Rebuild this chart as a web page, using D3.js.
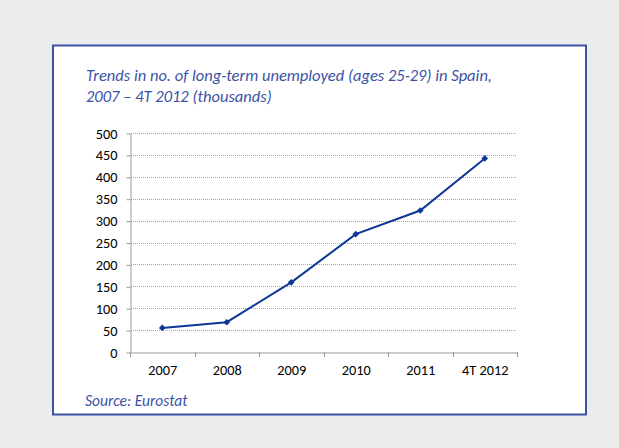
<!DOCTYPE html>
<html><head><meta charset="utf-8">
<script src="https://cdn.jsdelivr.net/npm/d3@7/dist/d3.min.js"></script>
<style>
body{margin:0;background:#ebeceb;}
svg{display:block;}
</style></head>
<body>
<svg id="chart" width="619" height="448"></svg>
<script>
const categories = ["2007","2008","2009","2010","2011","4T 2012"];
const values = [55, 68, 159, 269, 323, 442];
const yTicks = [0,50,100,150,200,250,300,350,400,450,500];
const titleLines = ["Trends in no. of long-term unemployed (ages 25-29) in Spain,","2007 \u2013 4T 2012 (thousands)"];
const sourceText = "Source: Eurostat";

const svg = d3.select("#chart");
const font = "Carlito, 'Open Sans', 'Liberation Sans', sans-serif";
svg.append("rect").attr("width",619).attr("height",448).attr("fill","#ebeceb");
svg.append("rect").attr("x",53).attr("y",45.5).attr("width",533).attr("height",369)
  .attr("fill","#fff").attr("stroke","#3c52a6").attr("stroke-width",2);

titleLines.forEach((t,i)=>{
  svg.append("text").attr("x",86).attr("y",81+i*21).text(t)
    .attr("font-family",font).attr("font-style","italic").attr("font-size",16.5)
    .attr("fill","#3c52a6");
});
svg.append("text").attr("x",85).attr("y",406).text(sourceText)
  .attr("font-family",font).attr("font-style","italic").attr("font-size",15.5)
  .attr("fill","#3c52a6");

const x = d3.scaleBand().domain(categories).range([130,517]);
const y = d3.scaleLinear().domain([0,500]).range([352,133]);

// gridlines
svg.append("g").selectAll("line").data(yTicks.filter(d=>d>0)).join("line")
  .attr("x1",131).attr("x2",517).attr("y1",d=>Math.round(y(d))+0.5).attr("y2",d=>Math.round(y(d))+0.5)
  .attr("stroke","#a6a6a6").attr("stroke-width",1).attr("stroke-dasharray","1,1");

const ya = svg.append("g").attr("transform","translate(130.5,0.5)")
  .call(d3.axisLeft(y).tickValues(yTicks).tickSize(4).tickPadding(9).tickSizeOuter(0));
ya.select(".domain").attr("stroke","#999");
ya.selectAll(".tick line").attr("stroke","#999");
ya.selectAll("text").attr("font-family",font).attr("font-size",14.3).attr("fill","#000");

const xa = svg.append("g").attr("transform","translate(0.5,352.5)")
  .call(d3.axisBottom(x).tickSize(0).tickPadding(12));
xa.select(".domain").attr("stroke","#999");
xa.selectAll("text").attr("font-family",font).attr("font-size",14.3).attr("fill","#000");
// category boundary ticks
const bounds = categories.map(c=>x(c)).concat([x.range()[1]]);
svg.append("g").selectAll("line").data(bounds).join("line")
  .attr("x1",d=>Math.round(d)+0.5).attr("x2",d=>Math.round(d)+0.5)
  .attr("y1",352).attr("y2",357).attr("stroke","#999");

const cx = d=>x(d)+x.bandwidth()/2;
const data = categories.map((c,i)=>({c,v:values[i]}));
svg.append("path").datum(data)
  .attr("d",d3.line().x(d=>cx(d.c)).y(d=>y(d.v)))
  .attr("fill","none").attr("stroke","#0d3796").attr("stroke-width",2);
svg.append("g").selectAll("path").data(data).join("path")
  .attr("transform",d=>`translate(${cx(d.c)},${y(d.v)}) rotate(45)`)
  .attr("d",d3.symbol(d3.symbolSquare,22))
  .attr("fill","#0d3796");
</script>
</body></html>
